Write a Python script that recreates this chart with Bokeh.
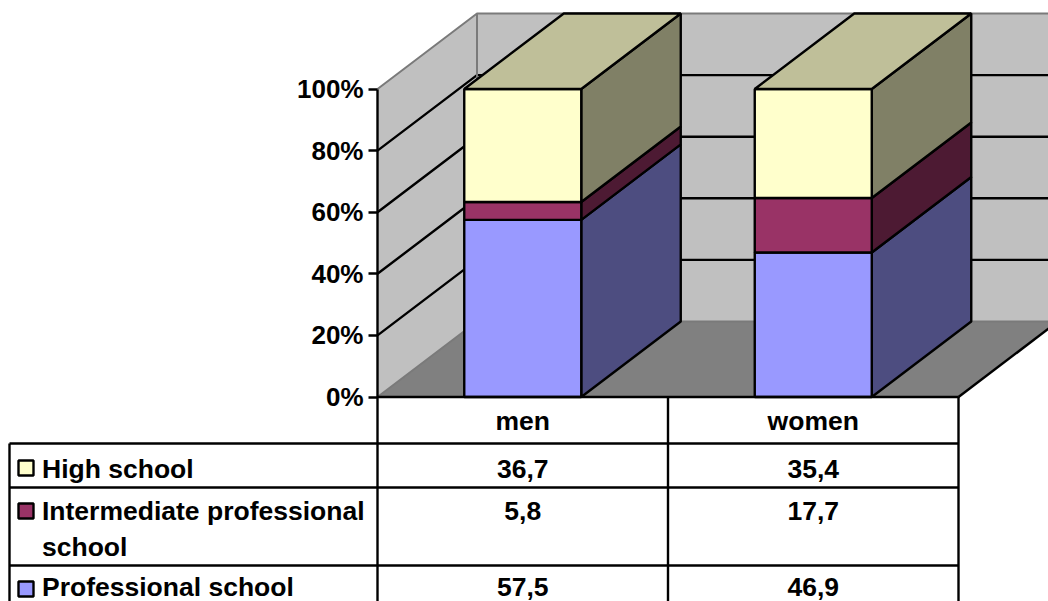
from bokeh.plotting import figure
from bokeh.models import Range1d, LinearAxis, FixedTicker
from bokeh.core.properties import value
from bokeh.embed import file_html
from bokeh.resources import INLINE

# ---- data ----
categories = ["men", "women"]
professional = [57.5, 46.9]
intermediate = [5.8, 17.7]
high_school = [36.7, 35.4]
value_labels = {"High school": ["36,7", "35,4"],
                "Intermediate professional school": ["5,8", "17,7"],
                "Professional school": ["57,5", "46,9"]}
tick_values = [0, 20, 40, 60, 80, 100]
tick_labels = ["0%", "20%", "40%", "60%", "80%", "100%"]

# ---- styles / geometry ----
FRONT = ["#9999FF", "#993366", "#FFFFCC"]
SIDE = ["#4D4D80", "#4D1A33", "#808066"]
TOP = "#BFBF99"
WALL, FLOOR, GREY = "#C0C0C0", "#808080", "#7A7A7A"
X0, X1 = 377.0, 958.0
Y0PX, PX_PER_PCT = 396.5, 3.08
DX = 99.5
DY = 75.5 / PX_PER_PCT
BAR_W = 117.0
FONT = "Liberation Sans"
FS = "26.5px"
TEXT_SHIFT = -9
LW = 2.4


def Y(py):
    return (Y0PX - py) / PX_PER_PCT


p = figure(width=1048, height=601, output_backend="svg", toolbar_location=None,
           x_axis_type=None, y_axis_type=None, min_border=0,
           x_range=Range1d(0, 1048), y_range=Range1d(Y(601), Y(0)))
p.grid.visible = False
p.outline_line_color = None
p.background_fill_color = "white"
p.border_fill_color = "white"

# walls and floor
p.patch([X0, X0 + DX, X0 + DX, X0], [0, DY, 100 + DY, 100], fill_color=WALL, line_color=None)
p.patch([X0 + DX, X1 + DX, X1 + DX, X0 + DX], [DY, DY, 100 + DY, 100 + DY], fill_color=WALL, line_color=None)
p.patch([X0, X1, X1 + DX, X0 + DX], [0, 0, DY, DY], fill_color=FLOOR, line_color=None)

# gridlines
for t in tick_values[1:-1]:
    p.line([X0, X0 + DX, X1 + DX], [t, t + DY, t + DY], line_color="black", line_width=LW)
p.line([X0, X0 + DX, X1 + DX], [100, 100 + DY, 100 + DY], line_color=GREY, line_width=2)
p.line([X0, X0 + DX, X1 + DX], [0, DY, DY], line_color=GREY, line_width=2)
p.line([X0 + DX, X0 + DX], [DY, 100 + DY], line_color=GREY, line_width=2)
p.line([X1, X1 + DX], [0, DY], line_color="black", line_width=LW)

# columns
slot = (X1 - X0) / len(categories)
series = [professional, intermediate, high_school]
for i in range(len(categories)):
    cx = X0 + slot * (i + 0.5)
    xl, xr = cx - BAR_W / 2, cx + BAR_W / 2
    base = 0.0
    for s, vals in enumerate(series):
        top = base + vals[i]
        p.patch([xr, xr + DX, xr + DX, xr], [base, base + DY, top + DY, top],
                fill_color=SIDE[s], line_color="black", line_width=LW)
        p.patch([xl, xr, xr, xl], [base, base, top, top],
                fill_color=FRONT[s], line_color="black", line_width=LW)
        base = top
    p.patch([xl, xr, xr + DX, xl + DX], [base, base, base + DY, base + DY],
            fill_color=TOP, line_color="black", line_width=LW)

# y axis, placed on the front edge of the left wall
axis = LinearAxis(fixed_location=X0, ticker=FixedTicker(ticks=tick_values),
                  major_label_overrides={t: l for t, l in zip(tick_values, tick_labels)},
                  bounds=(0, 100), axis_line_color="black", axis_line_width=LW,
                  major_tick_line_color="black", major_tick_line_width=LW,
                  major_tick_in=0, major_tick_out=9, minor_tick_line_color=None,
                  major_label_standoff=5, major_label_text_font=FONT,
                  major_label_text_font_size="26px", major_label_text_font_style="bold",
                  major_label_text_color="black")
p.add_layout(axis, "left")

# data table
TBL_L = 9.0
ROW_Y = [396.5, 443, 487, 565]
ROW_BOTTOM = 601
for py in ROW_Y:
    p.line([TBL_L if py > 400 else X0, X1], [Y(py), Y(py)], line_color="black", line_width=LW)
for x, top in [(TBL_L, 443), (X0, 396.5), ((X0 + X1) / 2, 396.5), (X1, 396.5)]:
    p.line([x, x], [Y(top), Y(ROW_BOTTOM)], line_color="black", line_width=LW)


def txt(x, py, s, align="left"):
    p.text([x], [Y(py + TEXT_SHIFT)], text=[s], text_font=value(FONT), text_font_size=value(FS),
           text_font_style="bold", text_color="black", text_align=align,
           text_baseline="alphabetic")


centers = [X0 + slot * (i + 0.5) for i in range(len(categories))]
for c, name in zip(centers, categories):
    txt(c, 429, name, "center")

rows = [("High school", ["High school"], 477, 477, 2, 460),
        ("Intermediate professional school", ["Intermediate professional", "school"], 519, 519, 1, 503),
        ("Professional school", ["Professional school"], 595, 595, 0, 581)]
for key, lines, base, val_base, color_idx, key_top in rows:
    for j, line in enumerate(lines):
        txt(41.5, base + j * 36.5, line)
    for c, s in zip(centers, value_labels[key]):
        txt(c, val_base, s, "center")
    p.patch([18, 33, 33, 18], [Y(key_top), Y(key_top), Y(key_top + 15), Y(key_top + 15)],
            fill_color=FRONT[color_idx], line_color="black", line_width=LW)

open("out.html", "w").write(file_html(p, INLINE))
